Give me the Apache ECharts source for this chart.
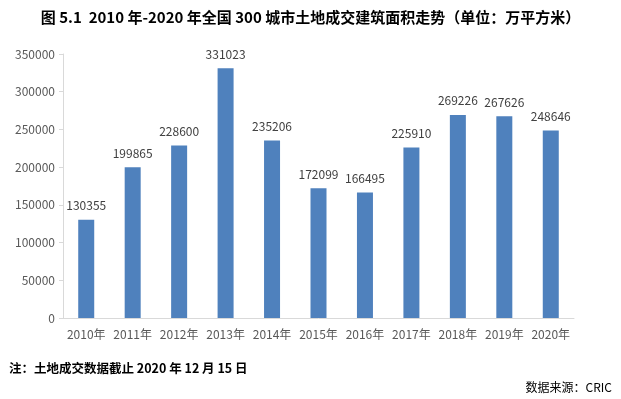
<!DOCTYPE html>
<html>
<head>
<meta charset="utf-8">
<script src="https://cdn.jsdelivr.net/npm/echarts@6/dist/echarts.min.js"></script>
<style>
html,body{margin:0;padding:0;background:#fff;}
#c{width:621px;height:399px;}
</style>
</head>
<body>
<div id="c"></div>
<script>
const categories = ['2010年','2011年','2012年','2013年','2014年','2015年','2016年','2017年','2018年','2019年','2020年'];
const areaValues = [130355, 199865, 228600, 331023, 235206, 172099, 166495, 225910, 269226, 267626, 248646];
const titleText = '图 5.1  2010 年-2020 年全国 300 城市土地成交建筑面积走势（单位：万平方米）';
const noteText = '注：土地成交数据截止 2020 年 12 月 15 日';
const sourceText = '数据来源：CRIC';

const font = '"Noto Sans CJK SC", "DejaVu Sans", sans-serif';
const chart = echarts.init(document.getElementById('c'), null, {renderer: 'canvas'});
chart.setOption({
  animation: false,
  backgroundColor: '#fff',
  title: [
    {text: titleText, left: 'center', top: 5, textStyle: {fontFamily: font, fontSize: 15, fontWeight: 'bold', color: '#000'}},
    {text: noteText, left: 4, top: 357, textStyle: {fontFamily: font, fontSize: 12.5, fontWeight: 'bold', color: '#000'}},
    {text: sourceText, right: 4, top: 376, textStyle: {fontFamily: font, fontSize: 12, fontWeight: 'normal', color: '#000'}}
  ],
  grid: {left: 63, right: 47, top: 54, bottom: 81, containLabel: false},
  xAxis: {
    type: 'category',
    data: categories,
    axisLine: {lineStyle: {color: '#d9d9d9'}},
    axisTick: {show: false},
    axisLabel: {fontFamily: font, fontSize: 12, color: '#595959', margin: 10, interval: 0}
  },
  yAxis: {
    type: 'value',
    min: 0, max: 350000, interval: 50000,
    axisLine: {show: true, lineStyle: {color: '#d9d9d9'}},
    axisTick: {show: true, length: 4, lineStyle: {color: '#d9d9d9'}},
    splitLine: {show: false},
    axisLabel: {fontFamily: font, fontSize: 12, color: '#595959', margin: 8, formatter: v => String(v)}
  },
  series: [{
    type: 'bar',
    data: areaValues,
    barWidth: 16,
    itemStyle: {color: '#4f81bd'},
    label: {show: true, position: 'top', distance: 8, fontFamily: font, fontSize: 12, color: '#404040'}
  }]
});
</script>
</body>
</html>
